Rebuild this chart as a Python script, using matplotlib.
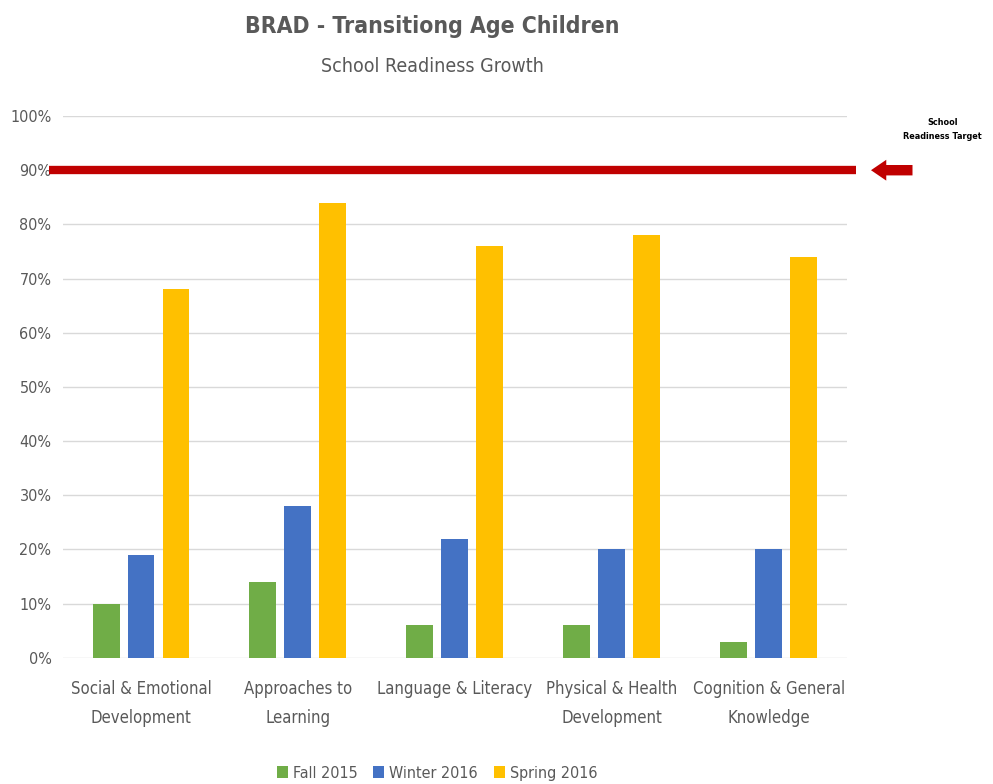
# School readiness growth chart, grouped bars with a target line

import numpy as np
import matplotlib
matplotlib.use("Agg")
import matplotlib.pyplot as plt
from matplotlib.transforms import blended_transform_factory

plt.rcParams["font.family"] = ["DejaVu Sans"]
plt.rcParams["font.stretch"] = "condensed"

# data
categories = ["Social & Emotional\nDevelopment", "Approaches to\nLearning",
              "Language & Literacy", "Physical & Health\nDevelopment",
              "Cognition & General\nKnowledge"]
fall_2015 = [0.10, 0.14, 0.06, 0.06, 0.03]
winter_2016 = [0.19, 0.28, 0.22, 0.20, 0.20]
spring_2016 = [0.68, 0.84, 0.76, 0.78, 0.74]
series_names = ["Fall 2015", "Winter 2016", "Spring 2016"]
target = 0.90

colors = ["#70ad47", "#4472c4", "#ffc000"]

fig = plt.figure(figsize=(9.93, 7.84), dpi=100)
ax = fig.add_axes([0.063, 0.161, 0.79, 0.691])

x = np.arange(len(categories))
width = 0.172
offset = 0.223
for i, vals in enumerate([fall_2015, winter_2016, spring_2016]):
    ax.bar(x + (i - 1) * offset, vals, width, color=colors[i], label=series_names[i],
           zorder=3)

ax.set_xlim(-0.5, len(categories) - 0.5)
ax.set_ylim(0, 1.0)
ax.set_yticks(np.arange(0, 1.01, 0.1))
ax.set_yticklabels([f"{int(round(v * 100))}%" for v in np.arange(0, 1.01, 0.1)])
ax.set_xticks(x)
ax.set_xticklabels(categories, linespacing=1.8)
ax.tick_params(axis="both", length=0, labelsize=11.5, colors="#595959")
ax.tick_params(axis="x", labelsize=12, pad=16)
ax.tick_params(axis="y", pad=8)
ax.grid(axis="y", color="#d9d9d9", linewidth=1, zorder=0)
for s in ax.spines.values():
    s.set_visible(False)

# target line sticking out past the plot area
tr = blended_transform_factory(ax.transAxes, ax.transData)
ax.plot([-0.017, 1.012], [target, target], color="#c00000", linewidth=6,
        transform=tr, clip_on=False, zorder=4, solid_capstyle="butt")
ax.annotate("", xy=(1.027, target), xytext=(1.087, target), xycoords=tr, textcoords=tr,
            arrowprops=dict(arrowstyle="simple,head_length=1.1,head_width=1.5,tail_width=0.75",
                            color="#c00000", lw=0))
ax.text(1.122, target + 0.075, "School\nReadiness Target", transform=tr, ha="center",
        va="center", fontsize=6.5, fontweight="bold", linespacing=1.6)

fig.text(0.435, 0.966, "BRAD - Transitiong Age Children", ha="center", va="center",
         fontsize=16.5, fontweight="bold", color="#595959")
fig.text(0.435, 0.915, "School Readiness Growth", ha="center", va="center",
         fontsize=14, color="#595959")

fig.legend(loc="center", bbox_to_anchor=(0.44, 0.014), ncol=3, frameon=False,
           fontsize=11.5, handlelength=0.7, handleheight=0.7, handletextpad=0.3,
           columnspacing=1.0, labelcolor="#595959")

fig.savefig("out.png", dpi=100)
